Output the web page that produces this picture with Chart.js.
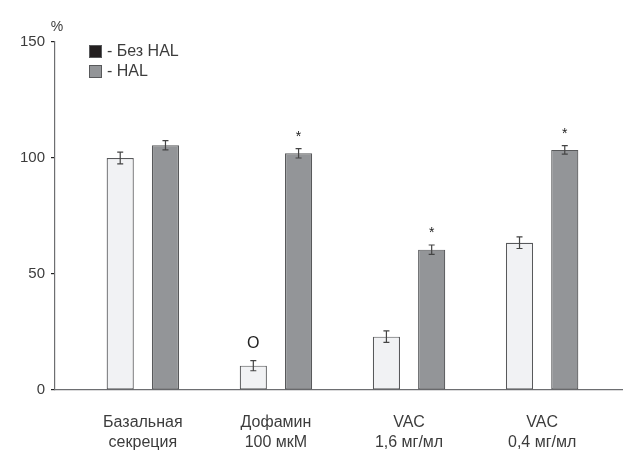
<!DOCTYPE html>
<html>
<head>
<meta charset="utf-8">
<script src="https://cdn.jsdelivr.net/npm/chart.js@4"></script>
<style>
  html, body { margin: 0; padding: 0; background: #fff; }
  #wrap { width: 628px; height: 456px; }
</style>
</head>
<body>
<div id="wrap"><canvas id="secretionChart"></canvas></div>
<script>
"use strict";

// DATA -----------------------
const categories = [
  ['Базальная', 'секреция'],
  ['Дофамин', '100 мкМ'],
  ['VAC', '1,6 мг/мл'],
  ['VAC', '0,4 мг/мл']
];
const categoryPositions = [1, 2, 3, 4];

const noHalValues = [100, 10.5, 23, 63.5];
const noHalErrors = [2.5, 2.2, 2.5, 2.5];
const halValues = [105.5, 102, 60.5, 103.5];
const halErrors = [2, 2, 2, 1.8];

const noHalMarks = ['', 'O', '', ''];
const halMarks = ['', '*', '*', '*'];

const yTicks = [0, 50, 100, 150];
const legendLabels = ['- Без HAL', '- HAL'];
const legendColors = ['#231f20', '#939598'];

// STYLE -----------------------
const fontFamily = '"Liberation Sans", Arial, sans-serif';
const textColor = '#3c3c3c';
const axisColor = '#6d6e71';
const outlineColor = '#58595b';

const errors = [noHalErrors, halErrors];
const marks = [noHalMarks, halMarks];

// Error bars drawn through the y scale
const errorBarPlugin = {
  id: 'errorBars',
  afterDatasetsDraw(chart) {
    const ctx = chart.ctx;
    const yScale = chart.scales.y;
    ctx.save();
    ctx.strokeStyle = '#444';
    ctx.lineWidth = 1.2;
    chart.data.datasets.forEach((ds, di) => {
      const meta = chart.getDatasetMeta(di);
      meta.data.forEach((bar, i) => {
        const v = ds.data[i].y;
        const e = errors[di][i];
        const yTop = yScale.getPixelForValue(v + e);
        const yBot = yScale.getPixelForValue(v - e);
        const cap = 3;
        ctx.beginPath();
        ctx.moveTo(bar.x, yTop);
        ctx.lineTo(bar.x, yBot);
        ctx.moveTo(bar.x - cap, yTop);
        ctx.lineTo(bar.x + cap, yTop);
        ctx.moveTo(bar.x - cap, yBot);
        ctx.lineTo(bar.x + cap, yBot);
        ctx.stroke();

        const mark = marks[di][i];
        if (mark) {
          const big = mark === 'O';
          ctx.fillStyle = '#222';
          ctx.font = (big ? '16px ' : '14px ') + fontFamily;
          ctx.textAlign = 'center';
          ctx.textBaseline = 'middle';
          const gap = big ? 17 : 12;
          ctx.fillText(mark, bar.x, yTop - gap);
        }
      });
    });
    ctx.restore();
  }
};

// Unit label and legend
const legendPlugin = {
  id: 'boxLegend',
  afterDraw(chart) {
    const ctx = chart.ctx;
    const area = chart.chartArea;
    ctx.save();
    ctx.fillStyle = textColor;
    ctx.font = '14px ' + fontFamily;
    ctx.textAlign = 'center';
    ctx.textBaseline = 'middle';
    ctx.fillText('%', area.left + 2, area.top - 15);

    ctx.font = '16px ' + fontFamily;
    ctx.textAlign = 'left';
    legendLabels.forEach((label, i) => {
      const x = area.left + 34;
      const y = area.top + 3 + i * 20;
      ctx.fillStyle = legendColors[i];
      ctx.fillRect(x, y, 12, 12);
      ctx.strokeStyle = outlineColor;
      ctx.lineWidth = 1;
      ctx.strokeRect(x + 0.5, y + 0.5, 12, 12);
      ctx.fillStyle = textColor;
      ctx.fillText(label, x + 18, y + 6.5);
    });
    ctx.restore();
  }
};

new Chart(document.getElementById('secretionChart'), {
  type: 'bar',
  data: {
    datasets: [
      {
        label: legendLabels[0],
        data: categoryPositions.map((x, i) => ({ x: x, y: noHalValues[i] })),
        backgroundColor: '#f1f2f4',
        borderColor: outlineColor,
        borderWidth: 1.2,
        borderSkipped: false
      },
      {
        label: legendLabels[1],
        data: categoryPositions.map((x, i) => ({ x: x, y: halValues[i] })),
        backgroundColor: '#939598',
        borderColor: outlineColor,
        borderWidth: 1.2,
        borderSkipped: false
      }
    ]
  },
  options: {
    responsive: true,
    maintainAspectRatio: false,
    animation: false,
    categoryPercentage: 0.68,
    barPercentage: 0.6,
    layout: { padding: { top: 42, right: 6, left: 0, bottom: 0 } },
    plugins: {
      legend: { display: false },
      tooltip: { enabled: false }
    },
    scales: {
      x: {
        type: 'linear',
        offset: false,
        min: 0.34,
        max: 4.6,
        afterBuildTicks(scale) {
          scale.ticks = categoryPositions.map(v => ({ value: v }));
        },
        afterFit(scale) { scale.height = 66; },
        grid: { display: false, offset: false },
        border: { display: true, color: axisColor, width: 1.2 },
        ticks: {
          autoSkip: false,
          maxRotation: 0,
          padding: 15,
          color: textColor,
          font: { family: fontFamily, size: 16, lineHeight: 1.25 },
          callback: (value) => categories[categoryPositions.indexOf(value)] || ''
        }
      },
      y: {
        min: 0,
        max: 150,
        afterBuildTicks(scale) {
          scale.ticks = yTicks.map(v => ({ value: v }));
        },
        afterFit(scale) { scale.width = 55; },
        grid: {
          drawOnChartArea: false,
          drawTicks: true,
          tickLength: 4,
          color: '#222',
          lineWidth: 1.2
        },
        border: { display: true, color: axisColor, width: 1.2 },
        ticks: {
          padding: 6,
          color: textColor,
          font: { family: fontFamily, size: 15 }
        }
      }
    }
  },
  plugins: [errorBarPlugin, legendPlugin]
});
</script>
</body>
</html>
